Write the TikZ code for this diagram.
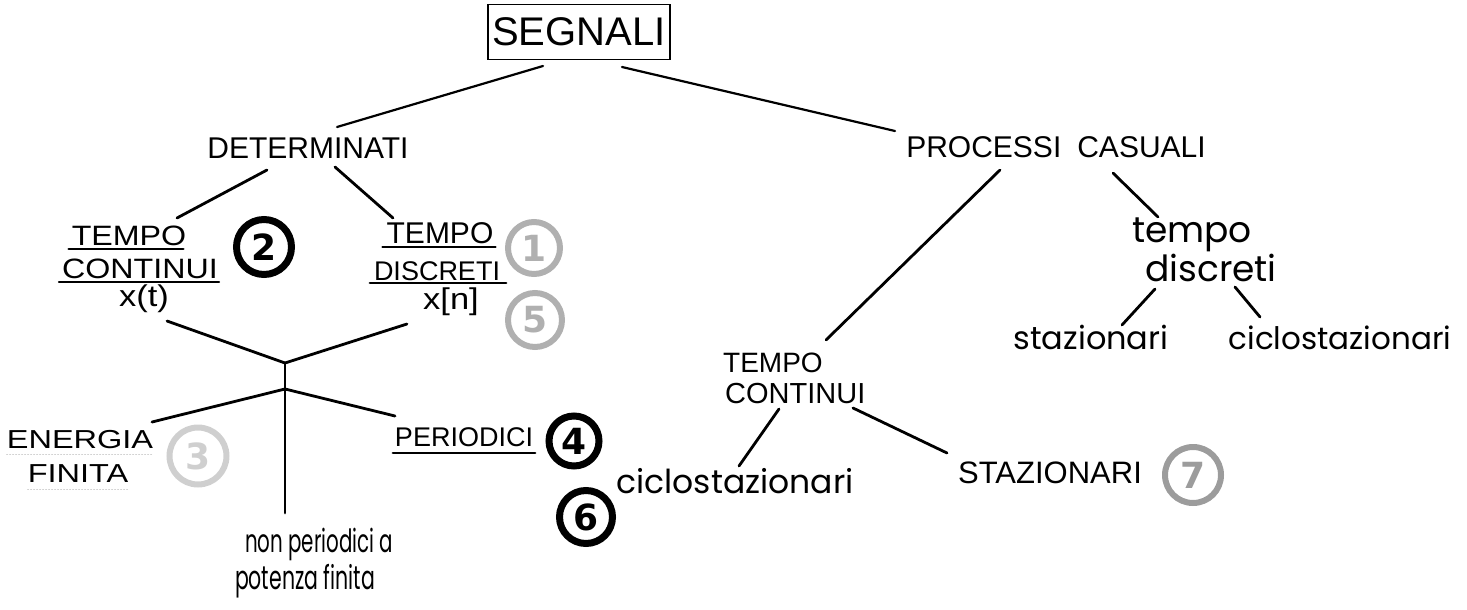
\documentclass[tikz,border=0pt]{standalone}
\usepackage{fontspec}
\setmainfont{Liberation Sans}
\newfontfamily\capsA{Liberation Sans}
\newfontfamily\capsW[FakeStretch=1.15]{Liberation Sans}
\newfontfamily\capsWW[FakeStretch=1.25]{Liberation Sans}
\newfontfamily\hand{Poppins}
\newfontfamily\handN[FakeStretch=0.62]{Poppins}
\newfontfamily\numfont{DejaVu Sans}
\begin{document}
\begin{tikzpicture}[x=1pt,y=-1pt,line cap=round,
  conn/.style={line width=2.8pt},
  ul/.style={line width=2.2pt},
  faint/.style={line width=1pt,gray!35,dotted},
  lab/.style={inner sep=0pt,anchor=base},
  labw/.style={inner sep=0pt,anchor=base west},
  numc/.style={circle,inner sep=0pt,minimum size=#1,
    font=\numfont\bfseries\fontsize{36}{36}\selectfont},
  blk/.style={draw=black,text=black,line width=7pt},
  gry/.style={draw=gray!62,text=gray!62,line width=6pt},
  lgry/.style={draw=gray!38,text=gray!38,line width=6pt},
  dgry/.style={draw=gray!78,text=gray!78,line width=6pt}]
\useasboundingbox (0,0) rectangle (1467,610);

% root
\node[draw,line width=1.8pt,minimum width=182pt,minimum height=55pt,inner sep=0pt,
  font=\capsA\fontsize{40}{40}\selectfont] (segnali) at (579,32) {SEGNALI};

% level 1
\node[lab,font=\capsA\fontsize{30}{30}\selectfont] (det) at (308,158) {DETERMINATI};
\node[lab,font=\capsA\fontsize{30}{30}\selectfont] (proc) at (1056,157) {PROCESSI\hspace{16pt}CASUALI};

% determinati children
\node[lab,font=\capsW\fontsize{28}{28}\selectfont] (tcl1) at (129,245) {TEMPO};
\node[lab,font=\capsW\fontsize{28}{28}\selectfont] (tcl2) at (140,278) {CONTINUI};
\node[lab,font=\capsW\fontsize{30}{30}\selectfont] (tcl3) at (144,306) {x(t)};
\node[lab,font=\capsA\fontsize{30}{30}\selectfont] (tdm1) at (440,243) {TEMPO};
\node[lab,font=\capsA\fontsize{27}{27}\selectfont] (tdm2) at (437,280) {DISCRETI};
\node[lab,font=\capsW\fontsize{30}{30}\selectfont] (tdm3) at (451,309) {x[n]};

\draw[ul] ([xshift=-3pt,yshift=-4pt]tcl1.base west) -- ([xshift=-3pt,yshift=-4pt]tcl1.base east);
\draw[ul] ([xshift=-3pt,yshift=-4pt]tcl2.base west) -- ([xshift=1pt,yshift=-4pt]tcl2.base east);
\draw[ul] ([xshift=-4pt,yshift=-4pt]tdm1.base west) -- ([xshift=2pt,yshift=-4pt]tdm1.base east);
\draw[ul] ([xshift=-4pt,yshift=-3pt]tdm2.base west) -- ([xshift=6pt,yshift=-3pt]tdm2.base east);

% numbered circles
\node[numc=55pt,blk] (c2) at (264,247) {2};
\node[numc=52pt,gry] (c1) at (534,248) {1};
\node[numc=54pt,gry] (c5) at (535,320) {5};
\node[numc=57pt,lgry] (c3) at (198,456) {3};
\node[numc=50pt,blk] (c4) at (574,441) {4};
\node[numc=53pt,blk] (c6) at (586,517) {6};
\node[numc=56pt,dgry] (c7) at (1193,475) {7};

% lower-left branch
\node[lab,font=\capsWW\fontsize{26}{26}\selectfont] (en1) at (80,448) {ENERGIA};
\node[lab,font=\capsWW\fontsize{26}{26}\selectfont] (en2) at (78,482) {FINITA};
\draw[faint] ([yshift=-6pt]en1.base west) -- ([yshift=-6pt]en1.base east);
\draw[faint] ([yshift=-7pt]en2.base west) -- ([yshift=-7pt]en2.base east);
\node[lab,font=\capsA\fontsize{27}{27}\selectfont] (per) at (464,446) {PERIODICI};
\draw[ul] ([xshift=-2pt,yshift=-7pt]per.base west) -- ([xshift=2pt,yshift=-7pt]per.base east);
\node[lab,font=\handN\fontsize{32}{32}\selectfont] (np1) at (319,552) {non periodici a};
\node[lab,font=\handN\fontsize{33}{33}\selectfont] (np2) at (305,589) {potenza finita};

% processi casuali children
\node[labw,font=\capsA\fontsize{28}{28}\selectfont] (tcr1) at (723,372) {TEMPO};
\node[labw,font=\capsA\fontsize{29}{29}\selectfont] (tcr2) at (725,403) {CONTINUI};
\node[lab,font=\hand\fontsize{33}{33}\selectfont] (cicm) at (735,493) {ciclostazionari};
\node[lab,font=\capsA\fontsize{31}{31}\selectfont] (staz) at (1050,483) {STAZIONARI};
\node[lab,font=\hand\fontsize{36}{36}\selectfont] (tdr1) at (1192,242) {tempo};
\node[lab,font=\hand\fontsize{36}{36}\selectfont] (tdr2) at (1211,281) {discreti};
\node[lab,font=\hand\fontsize{32}{32}\selectfont] (stazr) at (1091,349) {stazionari};
\node[lab,font=\hand\fontsize{31}{31}\selectfont] (cicr) at (1340,349) {ciclostazionari};

% connector end points
\coordinate (sA) at (543,66);  \coordinate (sB) at (337,127);
\coordinate (sC) at (622,67);  \coordinate (sD) at (895,131);
\coordinate (dA) at (267,170); \coordinate (dB) at (177,218);
\coordinate (dC) at (335,167); \coordinate (dD) at (393,218);
\coordinate (vL) at (167,321); \coordinate (vR) at (407,324);
\coordinate (jV) at (285,363); \coordinate (jB) at (285,389);
\coordinate (jE) at (285,513);
\coordinate (bL) at (152,422); \coordinate (bR) at (395,416);
\coordinate (pA) at (1000,170); \coordinate (pB) at (826,340);
\coordinate (pC) at (1113,173); \coordinate (pD) at (1158,217);
\coordinate (tA) at (779,409); \coordinate (tB) at (739,466);
\coordinate (tC) at (853,408); \coordinate (tD) at (947,453);
\coordinate (rA) at (1155,289); \coordinate (rB) at (1122,325);
\coordinate (rC) at (1235,287); \coordinate (rD) at (1260,317);

\draw[line width=2.2pt] (sA) -- (sB);
\draw[line width=2.2pt] (sC) -- (sD);
\draw[conn] (dA) -- (dB);
\draw[conn] (dC) -- (dD);
\draw[conn] (vL) -- (jV) -- (vR);
\draw[conn] (jV) -- (jB) -- (jE);
\draw[conn] (bL) -- (jB) -- (bR);
\draw[conn] (pA) -- (pB);
\draw[conn] (pC) -- (pD);
\draw[conn] (tA) -- (tB);
\draw[conn] (tC) -- (tD);
\draw[conn] (rA) -- (rB);
\draw[conn] (rC) -- (rD);
\end{tikzpicture}
\end{document}
